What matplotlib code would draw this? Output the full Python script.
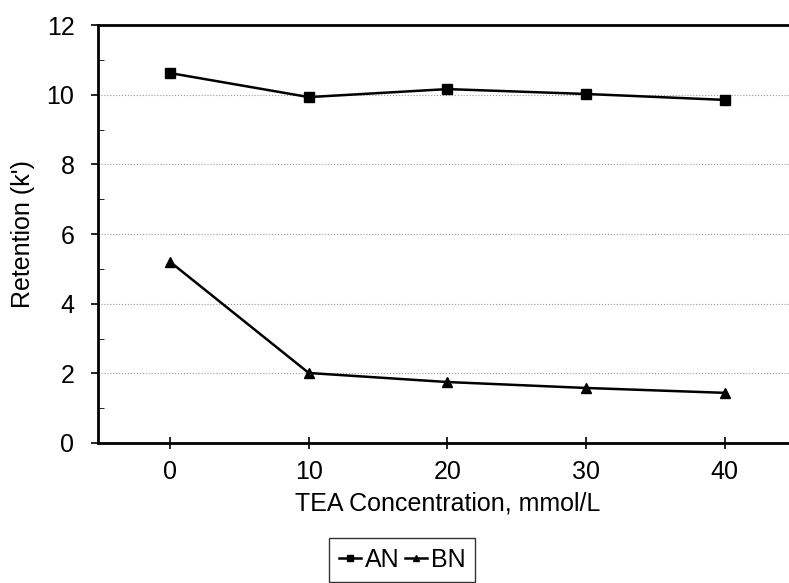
import matplotlib.pyplot as plt
from matplotlib.ticker import MultipleLocator

plt.rcParams['font.family'] = ['Liberation Sans', 'DejaVu Sans']

tea = [0, 10, 20, 30, 40]
an = [10.62, 9.93, 10.16, 10.02, 9.85]
bn = [5.2, 2.01, 1.75, 1.58, 1.44]

fig = plt.figure(figsize=(7.89, 5.83), dpi=100)
ax = fig.add_axes([98 / 789, 1 - 443 / 583, 1 - 98 / 789 + 0.01, (443 - 25) / 583])

ax.plot(tea, an, color='black', lw=1.8, marker='s', ms=7, label='AN')
ax.plot(tea, bn, color='black', lw=1.8, marker='^', ms=7, label='BN')

ax.set_xlim(-5.2, 45.2)
ax.set_ylim(0, 12)
ax.set_xticks(tea)
ax.yaxis.set_major_locator(MultipleLocator(2))
ax.yaxis.set_minor_locator(MultipleLocator(1))
ax.tick_params(axis='both', labelsize=18, width=1.2)
ax.tick_params(axis='x', direction='inout', length=8, pad=8)
ax.tick_params(axis='y', which='major', direction='out', length=5, pad=12)
ax.tick_params(axis='y', which='minor', direction='in', length=4)
ax.grid(axis='y', which='major', color='#999999', lw=0.8, ls=':')
for s in ['left', 'bottom', 'top']:
    ax.spines[s].set_linewidth(2)
ax.spines['right'].set_visible(False)

ax.set_xlabel('TEA Concentration, mmol/L', fontsize=18, labelpad=6)
ax.set_ylabel("Retention (k')", fontsize=18, labelpad=8)

ax.legend(loc='upper center', bbox_to_anchor=(0.435, -0.215), ncol=2, fontsize=18,
          frameon=True, fancybox=False, edgecolor='black', handlelength=0.9,
          handletextpad=0.15, columnspacing=0.2, borderpad=0.4, borderaxespad=0.2,
          markerscale=0.7)

fig.savefig('out.png', dpi=100)
